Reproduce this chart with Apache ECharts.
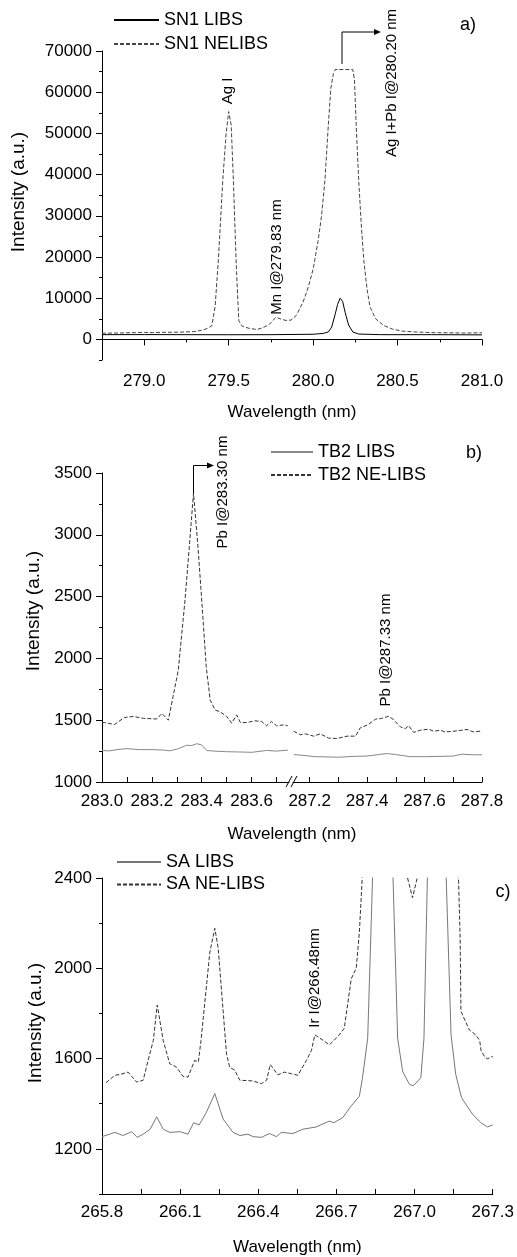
<!DOCTYPE html>
<html>
<head>
<meta charset="utf-8">
<script src="https://cdn.jsdelivr.net/npm/echarts@6/dist/echarts.min.js"></script>
<style>
html,body{margin:0;padding:0;background:#fff;}
#chart{width:517px;height:1257px;}
</style>
</head>
<body>
<div id="chart"></div>
<script>
// ---------- DATA ----------
// Panel a) SN1, wavelength (nm) vs intensity (a.u.)
const sn1Libs = [[278.75,1150],[279.0,1170],[279.25,1150],[279.5,1130],[279.75,1150],[280.0,1250],[280.06,1450],[280.09,1800],[280.11,3000],[280.13,6000],[280.145,8500],[280.16,10000],[280.175,9200],[280.19,6500],[280.21,3500],[280.235,1800],[280.27,1300],[280.4,1150],[280.7,1150],[281.0,1100]];
const sn1Nelibs = [[278.75,1500],[278.85,1550],[278.95,1650],[279.0,1700],[279.05,1650],[279.1,1700],[279.2,1750],[279.3,1900],[279.35,2300],[279.38,2800],[279.40,3300],[279.42,8000],[279.44,20000],[279.465,38600],[279.485,50000],[279.50,55300],[279.515,52000],[279.528,38600],[279.545,18000],[279.56,4500],[279.58,3200],[279.62,2700],[279.667,2400],[279.70,2800],[279.74,3600],[279.78,5400],[279.81,4900],[279.84,4600],[279.87,4700],[279.90,5800],[279.94,9000],[279.97,12500],[280.0,17000],[280.03,24000],[280.05,30000],[280.07,38600],[280.09,52000],[280.105,61000],[280.12,64500],[280.13,65500],[280.235,65500],[280.245,63000],[280.255,52000],[280.27,38600],[280.285,28000],[280.30,19200],[280.32,12000],[280.337,7900],[280.37,5000],[280.417,3400],[280.47,2500],[280.53,2000],[280.61,1800],[280.7,1650],[280.8,1600],[280.9,1550],[281.0,1600]];

// Panel b) TB2 (broken axis: 283.0-283.75 | 287.14-287.8)
const tb2LibsLeft = [[283.0,1255],[283.03,1252],[283.06,1262],[283.1,1270],[283.15,1262],[283.2,1262],[283.25,1258],[283.27,1252],[283.3,1265],[283.34,1297],[283.36,1295],[283.38,1310],[283.40,1300],[283.42,1255],[283.45,1250],[283.5,1245],[283.55,1243],[283.6,1240],[283.66,1255],[283.7,1250],[283.745,1258]];
const tb2NeLeft = [[283.0,1481],[283.01,1481],[283.05,1465],[283.09,1522],[283.126,1530],[283.166,1515],[283.22,1510],[283.24,1555],[283.266,1500],[283.285,1690],[283.306,1905],[283.32,2200],[283.333,2473],[283.35,2900],[283.367,3337],[283.385,2900],[283.40,2473],[283.418,1932],[283.434,1662],[283.454,1582],[283.474,1568],[283.50,1530],[283.52,1476],[283.54,1543],[283.555,1481],[283.58,1481],[283.614,1495],[283.64,1490],[283.66,1455],[283.68,1490],[283.70,1455],[283.728,1462],[283.745,1455]];
const tb2LibsRight = [[287.145,1222],[287.18,1215],[287.22,1205],[287.26,1203],[287.3,1200],[287.35,1207],[287.4,1210],[287.44,1222],[287.47,1230],[287.5,1222],[287.55,1205],[287.6,1205],[287.65,1207],[287.7,1210],[287.73,1225],[287.77,1220],[287.8,1220]];
const tb2NeRight = [[287.144,1411],[287.168,1382],[287.185,1390],[287.214,1371],[287.237,1390],[287.266,1355],[287.295,1352],[287.33,1371],[287.36,1371],[287.376,1438],[287.40,1460],[287.43,1509],[287.45,1514],[287.475,1532],[287.49,1509],[287.516,1446],[287.533,1432],[287.545,1455],[287.562,1401],[287.585,1419],[287.614,1427],[287.632,1411],[287.655,1419],[287.672,1405],[287.702,1411],[287.73,1419],[287.748,1425],[287.77,1405],[287.8,1413]];

// Panel c) SA
const saLibs = [[265.80,1254],[265.85,1273],[265.88,1259],[265.914,1276],[265.935,1251],[265.958,1265],[265.985,1287],[266.01,1342],[266.035,1287],[266.06,1273],[266.1,1276],[266.13,1265],[266.152,1316],[266.173,1306],[266.2,1360],[266.233,1445],[266.265,1332],[266.303,1273],[266.33,1259],[266.36,1265],[266.38,1254],[266.412,1251],[266.443,1268],[266.47,1254],[266.488,1273],[266.533,1268],[266.571,1287],[266.622,1297],[266.673,1323],[266.69,1316],[266.724,1338],[266.756,1389],[266.788,1433],[266.80,1515],[266.82,1690],[266.84,2450],[266.878,5000],[266.916,2450],[266.935,1690],[266.954,1544],[266.98,1486],[266.995,1479],[267.024,1515],[267.036,1690],[267.05,2450],[267.085,5000],[267.12,2450],[267.14,1705],[267.158,1530],[267.18,1427],[267.222,1354],[267.254,1316],[267.28,1297],[267.3,1306]];
const saNelibs = [[265.815,1493],[265.85,1526],[265.87,1530],[265.90,1540],[265.933,1496],[265.958,1504],[265.977,1592],[265.997,1680],[266.012,1837],[266.035,1680],[266.06,1577],[266.086,1562],[266.111,1521],[266.13,1518],[266.156,1592],[266.17,1585],[266.18,1680],[266.214,2071],[266.233,2177],[266.246,2090],[266.278,1621],[266.29,1562],[266.31,1548],[266.329,1504],[266.38,1501],[266.412,1489],[266.432,1504],[266.446,1574],[266.475,1528],[266.5,1540],[266.527,1533],[266.552,1526],[266.585,1592],[266.604,1636],[266.617,1705],[266.65,1680],[266.673,1661],[266.69,1680],[266.711,1705],[266.73,1734],[266.757,1954],[266.776,2000],[266.788,2159],[266.80,2420],[266.84,3500],[266.88,6000],[266.93,3000],[266.973,2400],[266.992,2313],[267.01,2400],[267.05,3500],[267.085,6000],[267.13,3200],[267.165,2420],[267.169,2386],[267.175,2130],[267.178,1809],[267.21,1727],[267.235,1705],[267.25,1680],[267.255,1636],[267.27,1606],[267.28,1599],[267.3,1610]];

// Tick values
const aXMajor = [279.0,279.5,280.0,280.5,281.0];
const aXMinor = [278.75,279.25,279.75,280.25,280.75];
const aYMajor = [0,10000,20000,30000,40000,50000,60000,70000];
const aYMinor = [-5000,5000,15000,25000,35000,45000,55000,65000];
const bXLeftTicks = [283.0,283.1,283.2,283.3,283.4,283.5,283.6,283.7];
const bXLeftLabels = [283.0,283.2,283.4,283.6];
const bXRightTicks = [287.2,287.3,287.4,287.5,287.6,287.7,287.8];
const bXRightLabels = [287.2,287.4,287.6,287.8];
const bYMajor = [1000,1500,2000,2500,3000,3500];
const bYMinor = [1250,1750,2250,2750,3250];
const cXTicks = [265.8,265.95,266.1,266.25,266.4,266.55,266.7,266.85,267.0,267.15,267.3];
const cXLabels = [265.8,266.1,266.4,266.7,267.0,267.3];
const cYMajor = [1200,1600,2000,2400];
const cYMinor = [1000,1400,1800,2200];

// ---------- CHART ----------
const FONT = "'Liberation Sans', Arial, Helvetica, sans-serif";
const chart = echarts.init(document.getElementById('chart'), null, {renderer:'canvas'});

const axLine = {show:true, lineStyle:{color:'#000', width:1}};
const lbl = (vals, fmt, margin) => ({show:true, customValues:vals, color:'#000', fontSize:17, fontFamily:FONT, margin:margin, formatter:fmt});
const fx = v => Number(v).toFixed(1);
const fy = v => String(Math.round(v));

function mainX(grid, min, max, ticks, labels, inside, len, margin, name, gap){
  return {type:'value', gridIndex:grid, min:min, max:max, position:'bottom',
    axisLine:axLine, splitLine:{show:false},
    axisTick:{show:true, customValues:ticks, inside:inside, length:len, lineStyle:{color:'#000'}},
    axisLabel:lbl(labels, fx, margin),
    name:name||'', nameLocation:'middle', nameGap:gap||40,
    nameTextStyle:{color:'#000', fontSize:17, fontFamily:FONT}};
}
function minorAxis(type, grid, min, max, ticks, len, pos){
  return {type:'value', gridIndex:grid, min:min, max:max, position:pos,
    axisLine:{show:false}, splitLine:{show:false}, axisLabel:{show:false},
    axisTick:{show:true, customValues:ticks, inside:false, length:len, lineStyle:{color:'#000'}}};
}
function mainY(grid, min, max, ticks, labels){
  return {type:'value', gridIndex:grid, min:min, max:max, position:'left',
    axisLine:axLine, splitLine:{show:false},
    axisTick:{show:true, customValues:ticks, inside:false, length:6, lineStyle:{color:'#000'}},
    axisLabel:lbl(labels, fy, 10)};
}

const lineS = (name, data, xi, yi, color, dashed) => ({
  name:name, type:'line', xAxisIndex:xi, yAxisIndex:yi, data:data,
  showSymbol:false, symbol:'none', smooth:false, clip:true, animation:false,
  color:color,
  lineStyle:{color:color, width:1, type: dashed ? [4,2] : 'solid'}
});

const tTxt = (text, x, y, size, rot) => ({
  type:'text', x:x, y:y, rotation: rot ? Math.PI/2 : 0, silent:true,
  style:{text:text, fill:'#000', font: size+'px '+FONT,
    align:'center', verticalAlign:'middle', textAlign:'center', textVerticalAlign:'middle'}
});
const arrow = (pts, head) => ([
  {type:'polyline', silent:true, shape:{points:pts}, style:{stroke:'#000', lineWidth:1, fill:null}},
  {type:'polygon', silent:true, shape:{points:head}, style:{fill:'#000'}}
]);

const legendCommon = {orient:'vertical', itemHeight:14, selectedMode:false,
  itemStyle:{opacity:0, borderWidth:0},
  textStyle:{color:'#000', fontSize:18, fontFamily:FONT, lineHeight:20}};

const option = {
  backgroundColor:'#fff',
  animation:false,
  grid:[
    {left:102, top:51, width:380, height:309},
    {left:102, top:473, width:187, height:309},
    {left:293, top:473, width:189, height:309},
    {left:102, top:878, width:392, height:319}
  ],
  xAxis:[
    mainX(0, 278.75, 281.0, aXMajor, aXMajor, false, 6, 13, 'Wavelength (nm)', 44),
    minorAxis('x', 0, 278.75, 281.0, aXMinor, 3, 'bottom'),
    mainX(1, 283.0, 283.75, bXLeftTicks, bXLeftLabels, true, 5, 11),
    mainX(2, 287.142, 287.8, bXRightTicks, bXRightLabels, true, 5, 11),
    mainX(3, 265.8, 267.3, cXTicks, cXLabels, true, 5, 10, 'Wavelength (nm)', 45)
  ],
  yAxis:[
    mainY(0, -5000, 70000, aYMajor, aYMajor),
    minorAxis('y', 0, -5000, 70000, aYMinor, 3, 'left'),
    mainY(1, 1000, 3500, bYMajor, bYMajor),
    minorAxis('y', 1, 1000, 3500, bYMinor, 3, 'left'),
    {type:'value', gridIndex:2, min:1000, max:3500, show:false},
    mainY(3, 1000, 2400, cYMajor, cYMajor),
    minorAxis('y', 3, 1000, 2400, cYMinor, 3, 'left')
  ],
  legend:[
    Object.assign({}, legendCommon, {left:108, top:5, itemWidth:45, itemGap:4, data:['SN1 LIBS','SN1 NELIBS']}),
    Object.assign({}, legendCommon, {left:265, top:437, itemWidth:42, itemGap:3, data:['TB2 LIBS','TB2 NE-LIBS']}),
    Object.assign({}, legendCommon, {left:111, top:847, itemWidth:44, itemGap:2.5, data:['SA LIBS','SA NE-LIBS']})
  ],
  series:[
    lineS('SN1 LIBS', sn1Libs, 0, 0, '#000', false),
    lineS('SN1 NELIBS', sn1Nelibs, 0, 0, '#444', true),
    lineS('TB2 LIBS', tb2LibsLeft, 2, 2, '#888', false),
    lineS('TB2 NE-LIBS', tb2NeLeft, 2, 2, '#333', true),
    lineS('TB2 LIBS', tb2LibsRight, 3, 4, '#888', false),
    lineS('TB2 NE-LIBS', tb2NeRight, 3, 4, '#333', true),
    lineS('SA LIBS', saLibs, 4, 5, '#777', false),
    lineS('SA NE-LIBS', saNelibs, 4, 5, '#333', true)
  ],
  graphic:[
    // y-axis titles
    tTxt('Intensity (a.u.)', 19, 192, 19, true),
    tTxt('Intensity (a.u.)', 34, 611, 19, true),
    tTxt('Intensity (a.u.)', 36, 1023, 19, true),
    // panel b x title
    tTxt('Wavelength (nm)', 292, 834, 17, false),
    // panel letters
    tTxt('a)', 468, 25, 18, false),
    tTxt('b)', 474, 453, 18, false),
    tTxt('c)', 503, 892, 18, false),
    // annotations
    tTxt('Ag I', 228, 91, 15, true),
    tTxt('Ag I+Pb I@280.20 nm', 392, 83, 15, true),
    tTxt('Mn I@279.83 nm', 277, 257, 15, true),
    tTxt('Pb I@283.30 nm', 223, 492, 15, true),
    tTxt('Pb I@287.33 nm', 386, 650, 15, true),
    tTxt('Ir I@266.48nm', 315, 978, 15, true),
    ...arrow([[342,64],[342,32],[375,32]], [[381,32],[374,29],[374,35]]),
    ...arrow([[193.5,493],[193.5,465.5],[208,465.5]], [[214,465.5],[207,462.5],[207,468.5]]),
    // axis break mark
    {type:'rect', silent:true, shape:{x:289.5, y:779, width:3.5, height:6}, style:{fill:'#fff'}},
    {type:'line', silent:true, shape:{x1:286, y1:787, x2:292, y2:776}, style:{stroke:'#000', lineWidth:1}},
    {type:'line', silent:true, shape:{x1:291, y1:787, x2:297, y2:776}, style:{stroke:'#000', lineWidth:1}}
  ]
};
chart.setOption(option);
</script>
</body>
</html>
